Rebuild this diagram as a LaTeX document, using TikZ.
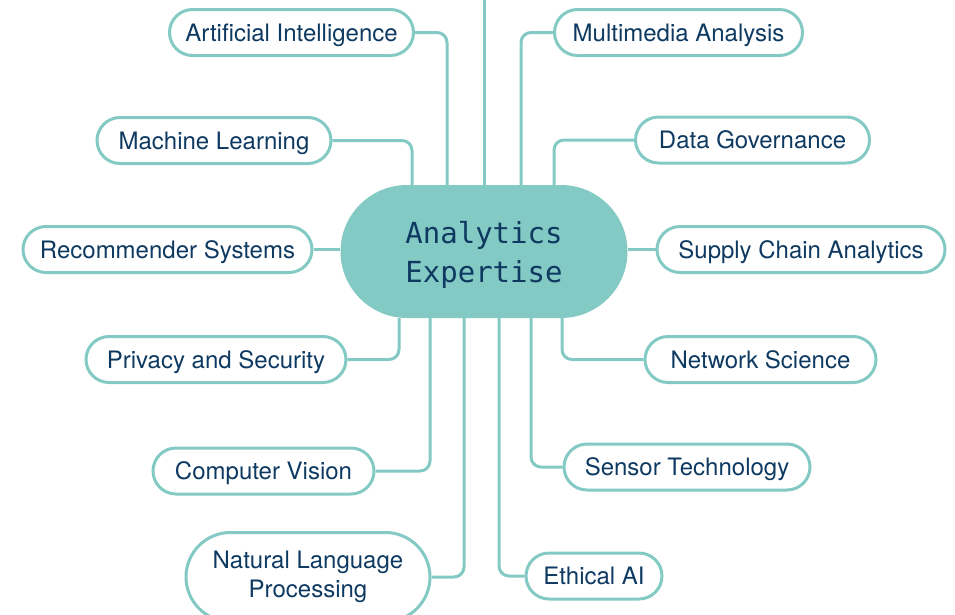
\documentclass[tikz,border=0pt]{standalone}
\usepackage{fontspec}
\setmainfont{TeX Gyre Heros}
\newfontfamily\centerfont{DejaVu Sans Mono}
\usetikzlibrary{shapes.misc}
\definecolor{teal}{RGB}{132,202,196}
\definecolor{navy}{RGB}{14,58,98}
\tikzset{
  leafbase/.style={rounded rectangle, draw=teal, line width=3pt, fill=white,
    minimum height=46pt, inner sep=0pt, text=navy, font=\fontsize{24}{29}\selectfont, align=center},
  leaf/.style={leafbase, text height=17.5pt, text depth=0pt},
  hub/.style={rounded rectangle, fill=teal, minimum height=133pt, minimum width=287pt,
    inner sep=0pt, text=navy, font=\centerfont\fontsize{29}{39}\selectfont, align=center},
  link/.style={draw=teal, line width=3pt, rounded corners=10pt}
}
\begin{document}
\begin{tikzpicture}[x=1pt,y=-1pt]
\useasboundingbox (0,0) rectangle (955,614);
\node[hub] (c) at (484,251.5) {\rule{0pt}{29pt}Analytics\\Expertise};
\coordinate (top) at (484,0);
\node[leaf, minimum width=244pt] (ai) at (291.5,32.5) {Artificial Intelligence};
\node[leaf, minimum width=248pt] (ma) at (678.5,32.5) {Multimedia Analysis};
\node[leaf, minimum width=234pt] (ml) at (214,140.5) {Machine Learning};
\node[leaf, minimum width=234pt] (dg) at (752.5,140) {Data Governance};
\node[leaf, minimum width=289pt] (rs) at (167.5,249.5) {Recommender Systems};
\node[leaf, minimum width=288pt] (sc) at (801,249.5) {Supply Chain Analytics};
\node[leaf, minimum width=260pt] (ps) at (216,359.5) {Privacy and Security};
\node[leaf, minimum width=231pt] (ns) at (760.5,359.5) {Network Science};
\node[leaf, minimum width=221pt] (cv) at (263.5,471) {Computer Vision};
\node[leaf, minimum width=246pt] (st) at (687,467) {Sensor Technology};
\node[leafbase, minimum width=244pt, minimum height=89pt] (nlp) at (308,577) {Natural Language\\Processing};
\node[leaf, minimum width=136pt] (ea) at (594,576) {Ethical AI};

\draw[link] (c.north) -- (top);
\draw[link] (ai.east) -| ([xshift=-37pt]c.north);
\draw[link] (ml.east) -| ([xshift=-72pt]c.north);
\draw[link] (ma.west) -| ([xshift=37pt]c.north);
\draw[link] (dg.west) -| ([xshift=70pt]c.north);
\draw[link] (rs.east) -- (rs.east -| c.west);
\draw[link] (sc.west) -- (sc.west -| c.east);
\draw[link] (ps.east) -| ([xshift=-85pt]c.south);
\draw[link] (cv.east) -| ([xshift=-54pt]c.south);
\draw[link] (nlp.east) -| ([xshift=-20pt]c.south);
\draw[link] (ea.west) -| ([xshift=15pt]c.south);
\draw[link] (st.west) -| ([xshift=47pt]c.south);
\draw[link] (ns.west) -| ([xshift=78pt]c.south);
\end{tikzpicture}
\end{document}
